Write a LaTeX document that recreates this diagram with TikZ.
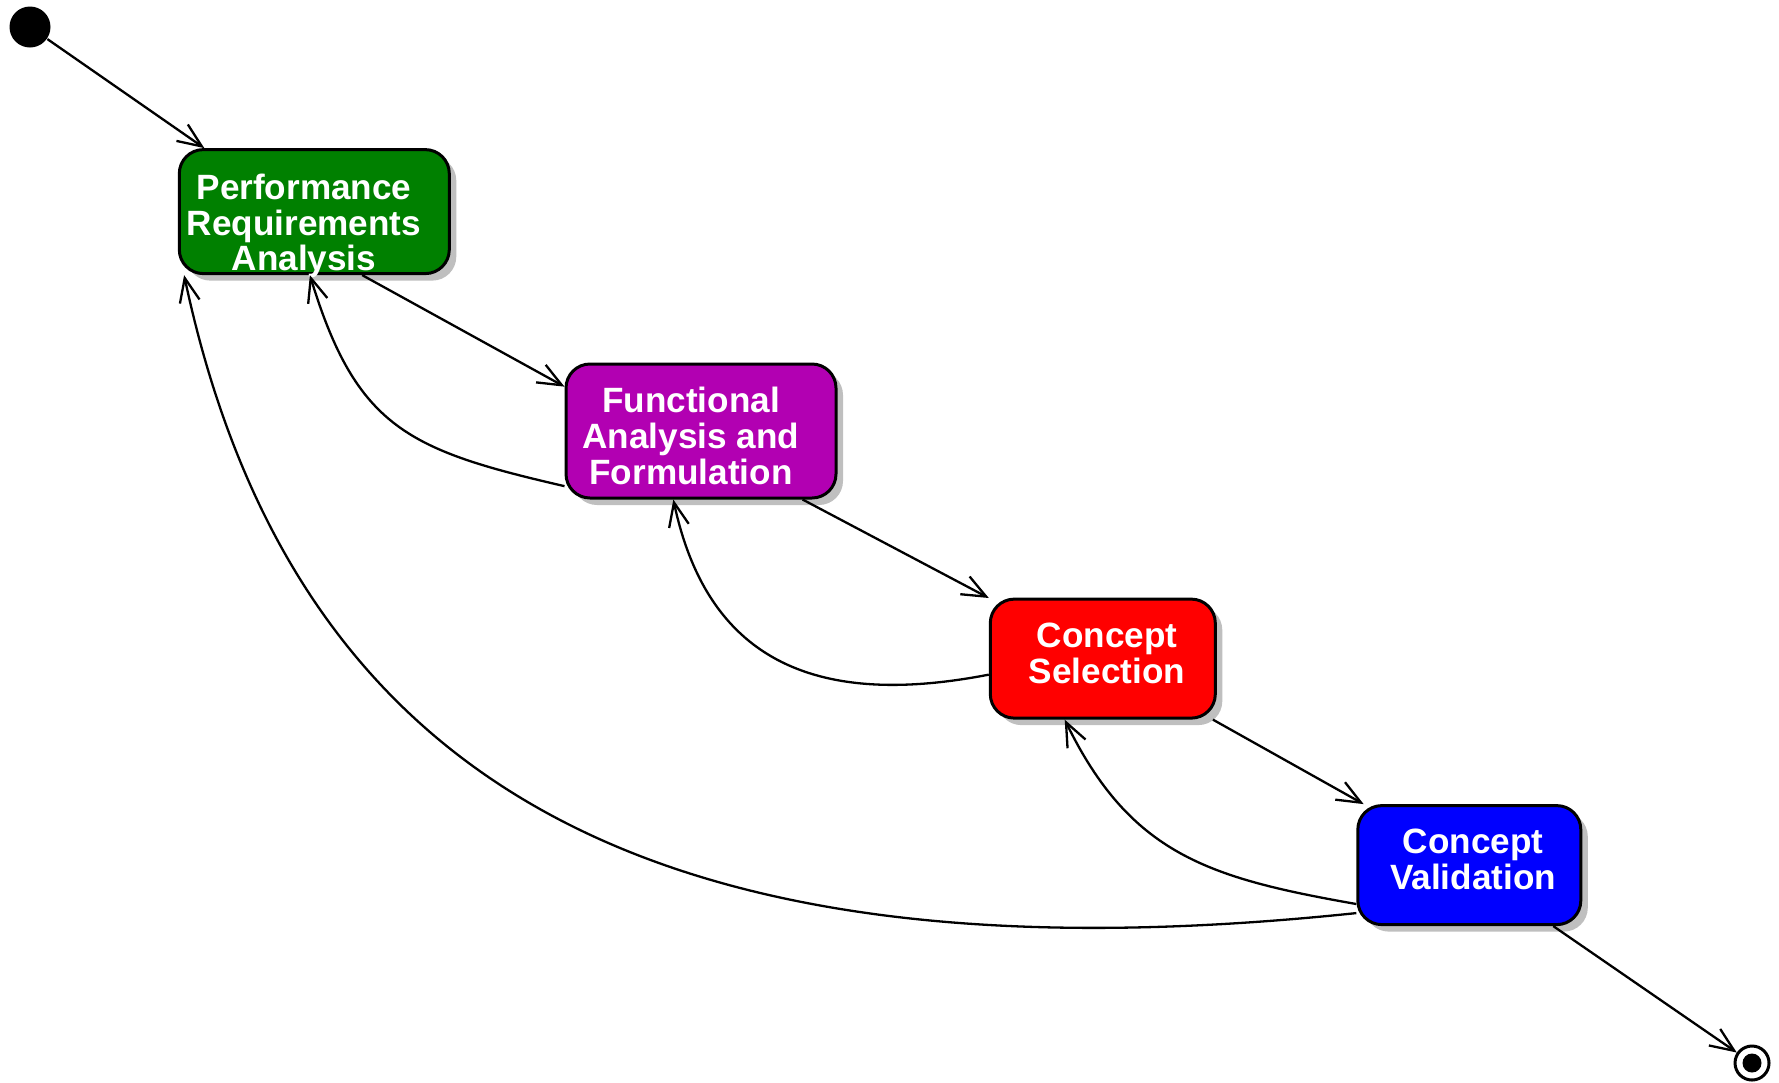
\documentclass[tikz,border=0pt]{standalone}
\usepackage{fontspec}
\setmainfont{Liberation Sans}
\usetikzlibrary{arrows.meta,shadows}
\definecolor{perfgreen}{RGB}{0,128,0}
\definecolor{funcpurple}{RGB}{178,0,178}
\definecolor{selred}{RGB}{255,0,0}
\definecolor{valblue}{RGB}{0,0,255}
\begin{document}
\begin{tikzpicture}[
    phase/.style={draw=black, line width=0.03cm, rounded corners=0.24cm,
      drop shadow={shadow xshift=0.07cm, shadow yshift=-0.07cm, fill=black!25, opacity=1}},
    phasetext/.style={text=white, font=\fontsize{10}{10.2}\selectfont\bfseries, align=center, inner sep=0pt},
    flow/.style={line width=0.023cm, -{Straight Barb[length=0.24cm,width=0.2cm]}}
  ]
  \useasboundingbox (0,0) rectangle (17.79,-10.82);

  \node[circle, fill=black, minimum size=0.41cm, inner sep=0pt] (start) at (0.30,-0.27) {};
  \node[circle, draw=black, line width=0.03cm, minimum size=0.34cm, inner sep=0pt] (stop) at (17.52,-10.63) {};
  \node[circle, fill=black, minimum size=0.19cm, inner sep=0pt] (stopdot) at (stop.center) {};

  \node[phase, fill=perfgreen, minimum width=2.70cm, minimum height=1.24cm] (perf) at (3.143,-2.116) {};
  \node[phase, fill=funcpurple, minimum width=2.70cm, minimum height=1.34cm] (func) at (7.01,-4.31) {};
  \node[phase, fill=selred, minimum width=2.25cm, minimum height=1.19cm] (sel) at (11.028,-6.586) {};
  \node[phase, fill=valblue, minimum width=2.23cm, minimum height=1.19cm] (val) at (14.693,-8.651) {};

  \node[phasetext] (perftext) at (3.04,-2.26) {Performance\\Requirements\\Analysis};
  \node[phasetext] (functext) at (6.91,-4.36) {Functional\\Analysis and\\Formulation};
  \node[phasetext] (seltext) at (11.07,-6.535) {Concept\\Selection};
  \node[phasetext] (valtext) at (14.73,-8.595) {Concept\\Validation};

  \draw[flow] (start) -- (perf.150);
  \draw[flow] (perf.-53) -- (func.162);
  \draw[flow] (func.-34) -- (sel.152);
  \draw[flow] (sel.-29) -- (val.150);
  \draw[flow] (val.-36) -- (stop);

  \draw[flow] (func.202) .. controls +(167:1.6) and +(-73:1.6) .. (perf.266);
  \draw[flow] (sel.188) .. controls +(191:1.7) and +(-78:1.7) .. (func.248);
  \draw[flow] (val.199) .. controls +(170:1.5) and +(-64:1.5) .. (sel.238);
  \draw[flow] (val.203) .. controls +(186:6.8) and +(-78:5.4) .. (perf.206);
\end{tikzpicture}
\end{document}
